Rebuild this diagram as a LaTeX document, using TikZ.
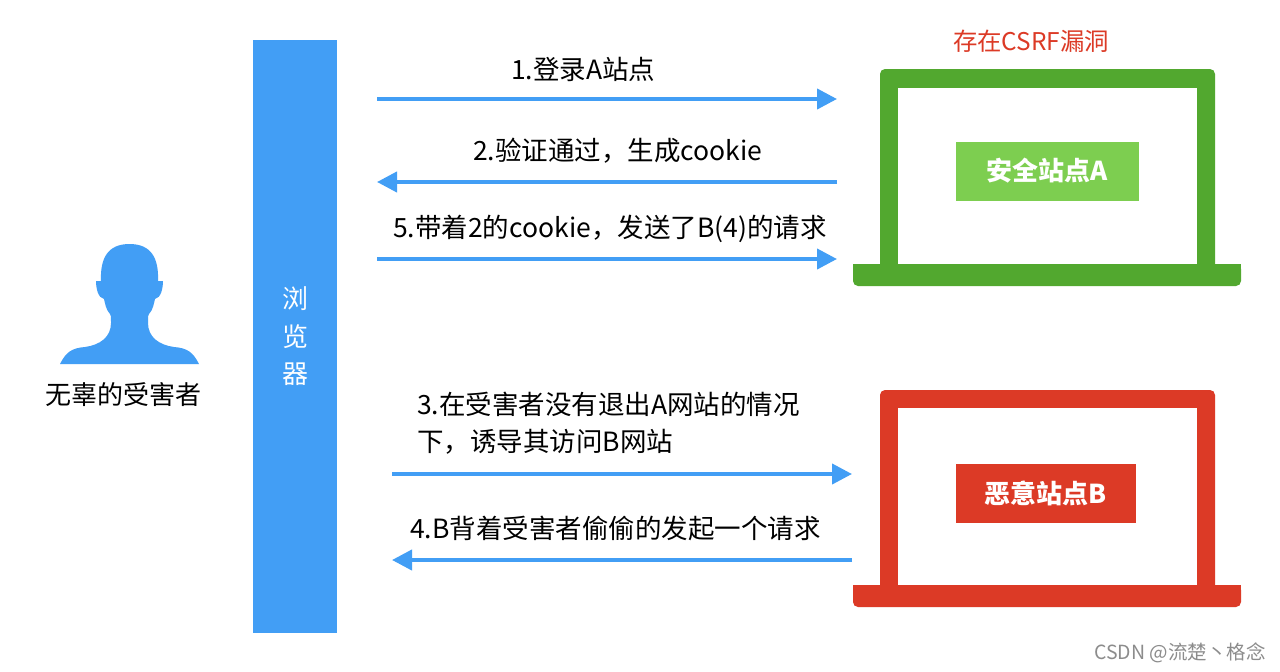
\documentclass[tikz,border=0pt]{standalone}
\usepackage{fontspec}
\setmainfont{Noto Sans CJK SC}
\usetikzlibrary{arrows.meta}
\definecolor{blueb}{HTML}{429EF5}
\definecolor{greenl}{HTML}{52A82F}
\definecolor{greenb}{HTML}{7DCE50}
\definecolor{redl}{HTML}{DC3A26}
\tikzset{
  lbl/.style={anchor=west,inner sep=0pt,font=\fontsize{26.5}{26.5}\selectfont,text=black},
  flow/.style={draw=blueb,line width=4pt,-{Triangle[length=20pt,width=20pt]},shorten >=0pt},
  vch/.style={inner sep=0pt,font=\fontsize{26}{26}\selectfont,text=white},
  sitebox/.style={inner sep=0pt,font=\fontsize{26}{26}\selectfont\bfseries,text=white,anchor=center},
}
\begin{document}
\begin{tikzpicture}[x=1pt,y=-1pt]
\useasboundingbox (0,0) rectangle (1280,672);
\fill[white] (0,0) rectangle (1280,672);
% person
\fill[blueb] (60,364) .. controls (66,352) and (72,348) .. (85,347)
  .. controls (100,345) and (111,337) .. (111,323)
  .. controls (111,316) and (111,315) .. (110,314)
  .. controls (106,310) and (105,303) .. (104,299)
  .. controls (98,298) and (96,288) .. (96,281)
  -- (101,281) .. controls (100,258) and (108,244) .. (129.5,244)
  .. controls (151,244) and (159,258) .. (158,281)
  -- (163,281) .. controls (163,288) and (161,298) .. (155,299)
  .. controls (154,303) and (153,310) .. (149,314)
  .. controls (148,315) and (148,316) .. (148,323)
  .. controls (148,337) and (159,345) .. (174,347)
  .. controls (187,348) and (193,352) .. (199,364) -- cycle;
\node[inner sep=0pt,font=\fontsize{26}{26}\selectfont] (victim) at (123,395) {无辜的受害者};
% browser
\fill[blueb] (253,40) rectangle (337,633);
\node[vch] (b1) at (295,299) {浏};
\node[vch] (b2) at (295,337) {览};
\node[vch] (b3) at (295,374) {器};
% laptop A
\fill[greenl,rounded corners=5pt] (880,274) -- (880,69) -- (1215,69) -- (1215,274) -- cycle;
\fill[white] (898,88) rectangle (1197,264);
\fill[greenl,rounded corners=5pt] (853,264) -- (853,286) -- (1241,286) -- (1241,264) -- cycle;
\fill[greenl] (853,264) rectangle (1241,272);
\fill[greenb] (956,142) rectangle (1139,201);
\node[sitebox] (siteA) at (1047.5,171) {安全站点A};
\node[inner sep=0pt,font=\fontsize{24.4}{24.4}\selectfont,text=redl] (vuln) at (1031,41) {存在CSRF漏洞};
% laptop B
\fill[redl,rounded corners=5pt] (880,595) -- (880,390) -- (1215,390) -- (1215,595) -- cycle;
\fill[white] (898,408) rectangle (1197,585);
\fill[redl,rounded corners=5pt] (853,585) -- (853,607) -- (1241,607) -- (1241,585) -- cycle;
\fill[redl] (853,585) rectangle (1241,593);
\fill[redl] (956,464) rectangle (1136,523);
\node[sitebox] (siteB) at (1046,493) {恶意站点B};
% arrow ends
\coordinate (a1s) at (377,99);  \coordinate (a1e) at (837,99);
\coordinate (a2s) at (837,182); \coordinate (a2e) at (377,182);
\coordinate (a5s) at (377,259); \coordinate (a5e) at (837,259);
\coordinate (a3s) at (392,474); \coordinate (a3e) at (852,474);
\coordinate (a4s) at (852,560); \coordinate (a4e) at (392,560);
\draw[flow] (a1s) -- (a1e);
\draw[flow] (a2s) -- (a2e);
\draw[flow] (a5s) -- (a5e);
\draw[flow] (a3s) -- (a3e);
\draw[flow] (a4s) -- (a4e);
% labels
\node[lbl] (t1) at (511,69) {1.登录A站点};
\node[lbl] (t2) at (473,151) {2.验证通过，生成cookie};
\node[lbl] (t5) at (393,229) {5.带着2的cookie，发送了B(4)的请求};
\node[lbl] (t3) at (417,404) {3.在受害者没有退出A网站的情况};
\node[lbl] (t3b) at (417,442) {下，诱导其访问B网站};
\node[lbl] (t4) at (410,528) {4.B背着受害者偷偷的发起一个请求};
% watermark
\node[anchor=west,inner sep=0pt,font=\fontsize{19.5}{19.5}\selectfont,text=black!45] (wm) at (1094,653) {CSDN @流楚丶格念};
\end{tikzpicture}
\end{document}
